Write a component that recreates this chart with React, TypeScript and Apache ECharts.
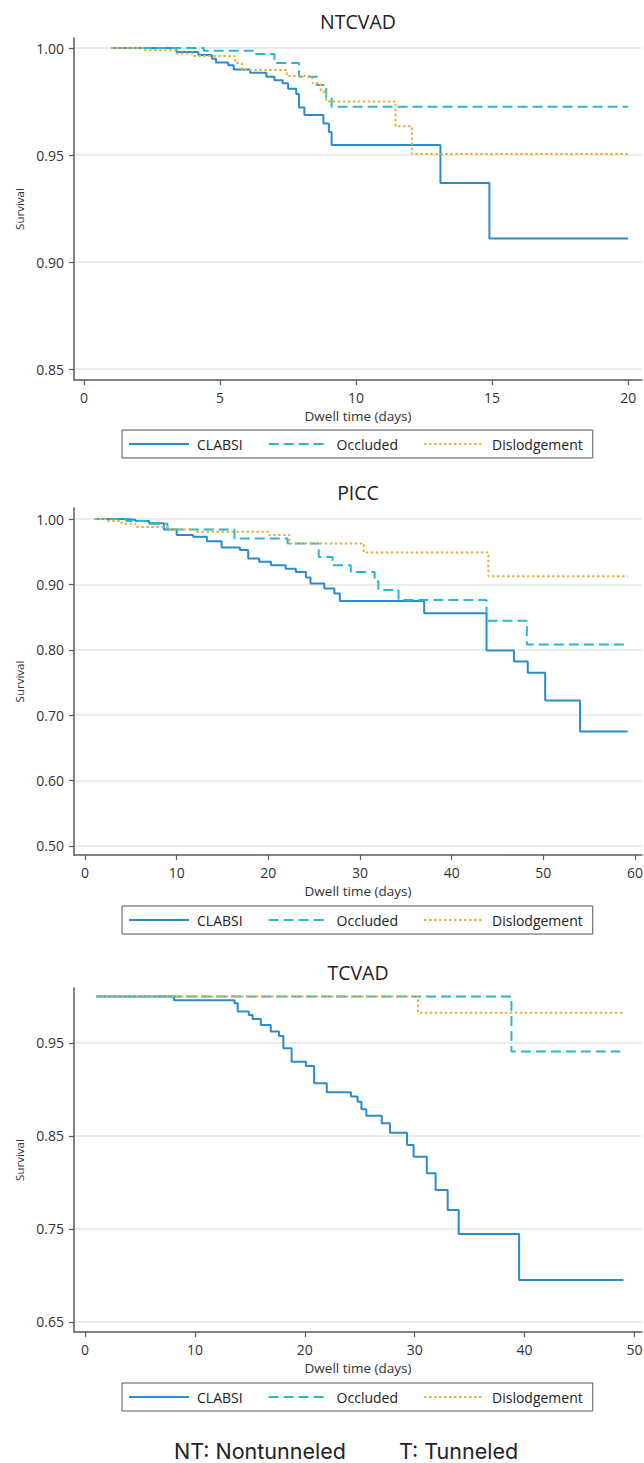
import React, { useEffect, useRef } from "react";
import * as echarts from "echarts";

// ---------- data ----------
const seriesNames = ["CLABSI", "Occluded", "Dislodgement"];
const panelTitles = ["NTCVAD", "PICC", "TCVAD"];
const xAxisName = "Dwell time (days)";
const yAxisName = "Survival";
const footerLeft = "NT: Nontunneled";
const footerRight = "T: Tunneled";

const xTicksNT = [0, 5, 10, 15, 20];
const yTicksNT = [0.85, 0.9, 0.95, 1.0];
const xTicksPICC = [0, 10, 20, 30, 40, 50, 60];
const yTicksPICC = [0.5, 0.6, 0.7, 0.8, 0.9, 1.0];
const xTicksT = [0, 10, 20, 30, 40, 50];
const yTicksT = [0.65, 0.75, 0.85, 0.95];

// [day, survival] at each drop
const ntClabsi = [
  [1, 1], [3.4, 0.9982], [4.2, 0.9967], [4.7, 0.995], [4.85, 0.9932], [5.3, 0.992],
  [5.5, 0.99], [6.1, 0.9885], [6.7, 0.9866], [7.0, 0.985], [7.3, 0.9835], [7.5, 0.981],
  [7.8, 0.9785], [7.9, 0.9722], [8.1, 0.9687], [8.8, 0.9648], [9.0, 0.9608], [9.1, 0.9547],
  [13.1, 0.937], [14.9, 0.911], [20, 0.911],
];
const ntOccluded = [
  [1, 1], [4.4, 0.9988], [6.2, 0.9972], [7.0, 0.993], [7.9, 0.9866], [8.55, 0.9827],
  [8.9, 0.977], [9.1, 0.9726], [20, 0.9726],
];
const ntDislodgement = [
  [1, 1], [2.2, 0.999], [3.4, 0.9975], [4.0, 0.9963], [5.55, 0.993], [5.8, 0.9897],
  [7.45, 0.9869], [8.4, 0.9835], [8.7, 0.9796], [8.9, 0.975], [11.45, 0.9635],
  [12.05, 0.9505], [20, 0.9505],
];

const piccClabsi = [
  [1, 1], [4.2, 0.999], [5.5, 0.997], [7, 0.9934], [8.6, 0.984], [10, 0.9755],
  [11.8, 0.973], [13.3, 0.966], [14.9, 0.9566], [16.9, 0.9525], [17.8, 0.9397],
  [19, 0.9346], [20.3, 0.9294], [21.9, 0.9238], [23, 0.9192], [24.1, 0.9106],
  [24.6, 0.9014], [26.1, 0.8937], [27.2, 0.886], [27.8, 0.8747], [37, 0.856],
  [43.8, 0.799], [46.8, 0.782], [48.3, 0.765], [50.2, 0.7225], [54, 0.675], [59.2, 0.675],
];
const piccOccluded = [
  [1, 1], [4.5, 0.997], [7, 0.993], [9, 0.984], [16.3, 0.9703], [22.1, 0.9627],
  [25.5, 0.942], [27.0, 0.9294], [29.0, 0.919], [31.6, 0.905], [32.0, 0.8916],
  [34.2, 0.8763], [43.8, 0.8446], [48.2, 0.8083], [59.2, 0.8083],
];
const piccDislodgement = [
  [1, 1], [2.5, 0.997], [4, 0.993], [5.5, 0.988], [9, 0.984], [12, 0.9806],
  [20.1, 0.9755], [22.3, 0.9627], [30.4, 0.949], [44, 0.9126], [59.2, 0.9126],
];

const tClabsi = [
  [1, 1], [8.1, 0.996], [13.6, 0.9927], [13.9, 0.9837], [14.9, 0.98], [15.25, 0.9758],
  [16.0, 0.9694], [16.9, 0.9622], [17.65, 0.9575], [18.05, 0.9443], [18.8, 0.9299],
  [20.1, 0.9253], [20.85, 0.9067], [22.0, 0.897], [24.2, 0.8923], [24.8, 0.8869],
  [25.15, 0.8787], [25.6, 0.8718], [27.0, 0.8637], [27.75, 0.8535], [29.3, 0.8403],
  [29.9, 0.8277], [31.1, 0.8099], [31.9, 0.7919], [33.0, 0.7704], [34.0, 0.7446],
  [39.5, 0.6952], [49, 0.6952],
];
const tOccluded = [[1, 1], [38.8, 0.9407], [48.7, 0.9407]];
const tDislodgement = [[1, 1], [30.3, 0.9826], [49, 0.9826]];

// ---------- layout / style ----------
const FONT = "'Open Sans', 'Noto Sans', sans-serif";
const FOOTER_FONT = "Inter, 'Open Sans', sans-serif";
const colors = ["#2b8ccc", "#27b8cc", "#e2b23c"];
const dashTypes: any[] = ["solid", [10, 5], [2.5, 2.5]];

const panels = [
  { title: panelTitles[0], titleTop: 11, top: 38, bottom: 380, xMin: -0.37, xMax: 20.51, yMin: 0.8449, yMax: 1.0047, xTicks: xTicksNT, yTicks: yTicksNT, legendTop: 430, series: [ntClabsi, ntOccluded, ntDislodgement] },
  { title: panelTitles[1], titleTop: 482, top: 508, bottom: 855, xMin: -1.2, xMax: 60.76, yMin: 0.4862, yMax: 1.0169, xTicks: xTicksPICC, yTicks: yTicksPICC, legendTop: 906, series: [piccClabsi, piccOccluded, piccDislodgement] },
  { title: panelTitles[2], titleTop: 962, top: 988, bottom: 1332, xMin: -1.0, xMax: 50.68, yMin: 0.6392, yMax: 1.0091, xTicks: xTicksT, yTicks: yTicksT, legendTop: 1383, series: [tClabsi, tOccluded, tDislodgement] },
];

const axisColor = "#5a5a5a";
const textColor = "#333";

function buildOption() {
  const grid: any[] = [];
  const xAxis: any[] = [];
  const yAxis: any[] = [];
  const title: any[] = [];
  const legend: any[] = [];
  const series: any[] = [];

  panels.forEach((p, i) => {
    grid.push({ left: 74, width: 568, top: p.top, height: p.bottom - p.top, containLabel: false, outerBoundsMode: "none" });
    title.push({
      text: p.title, left: 358, top: p.titleTop, textAlign: "center", padding: 0,
      textStyle: { fontSize: 19.5, fontWeight: "normal", color: "#222", fontFamily: FONT },
    });
    xAxis.push({
      type: "value", gridIndex: i, min: p.xMin, max: p.xMax,
      name: xAxisName, nameLocation: "middle", nameGap: 28.7,
      nameTextStyle: { fontSize: 13.5, lineHeight: 14, color: textColor, fontFamily: FONT },
      axisLine: { show: true, onZero: false, lineStyle: { color: axisColor, width: 1.5 } },
      axisTick: { show: true, inside: false, length: 5, customValues: p.xTicks, lineStyle: { color: axisColor, width: 1.2 } },
      axisLabel: { show: true, customValues: p.xTicks, margin: 10, fontSize: 14, lineHeight: 14, color: textColor, fontFamily: FONT },
      splitLine: { show: false },
    });
    yAxis.push({
      type: "value", gridIndex: i, min: p.yMin, max: p.yMax,
      name: yAxisName, nameLocation: "middle", nameGap: 45,
      nameTextStyle: { fontSize: 11.5, color: textColor, fontFamily: FONT },
      axisLine: { show: true, onZero: false, lineStyle: { color: axisColor, width: 1.5 } },
      axisTick: { show: true, inside: false, length: 5, customValues: p.yTicks, lineStyle: { color: axisColor, width: 1.2 } },
      axisLabel: { show: true, customValues: p.yTicks, margin: 10, fontSize: 14, color: textColor, fontFamily: FONT, formatter: (v: number) => v.toFixed(2) },
      splitLine: { show: true, lineStyle: { color: "#e4e4e4", width: 1.5 } },
    });
    legend.push({
      show: true, left: 122, top: p.legendTop, orient: "horizontal",
      data: seriesNames, itemWidth: 60, itemHeight: 14, itemGap: 25,
      padding: [7, 10, 7, 6], borderColor: "#555", borderWidth: 1, backgroundColor: "#fff",
      itemStyle: { opacity: 0 },
      textStyle: { fontSize: 14, color: "#222", fontFamily: FONT, padding: [0, 0, 0, 3] },
      selectedMode: false,
    });
    p.series.forEach((d, k) => {
      series.push({
        name: seriesNames[k], type: "line", step: "end", xAxisIndex: i, yAxisIndex: i,
        data: d, symbol: "none", showSymbol: false, clip: true,
        lineStyle: { color: colors[k], width: 2, type: dashTypes[k] },
        itemStyle: { color: colors[k] },
        z: 2 + k,
      });
    });
  });

  return {
    animation: false,
    backgroundColor: "#fff",
    title, grid, xAxis, yAxis, legend, series,
    graphic: [
      { type: "text", left: 174, top: 1440, style: { text: footerLeft, fontSize: 21.5, lineHeight: 20, fontFamily: FOOTER_FONT, fill: "#222" } },
      { type: "text", left: 399, top: 1440, style: { text: footerRight, fontSize: 21.5, lineHeight: 20, fontFamily: FOOTER_FONT, fill: "#222" } },
    ],
  };
}

export default function App() {
  const ref = useRef<HTMLDivElement>(null);
  useEffect(() => {
    if (!ref.current) return;
    const chart = echarts.init(ref.current, undefined, { renderer: "svg" });
    chart.setOption(buildOption() as any);
    return () => chart.dispose();
  }, []);
  return (
    <div
      ref={ref}
      style={{ position: "absolute", left: 0, top: 0, width: 644, height: 1463, background: "#fff" }}
    />
  );
}
